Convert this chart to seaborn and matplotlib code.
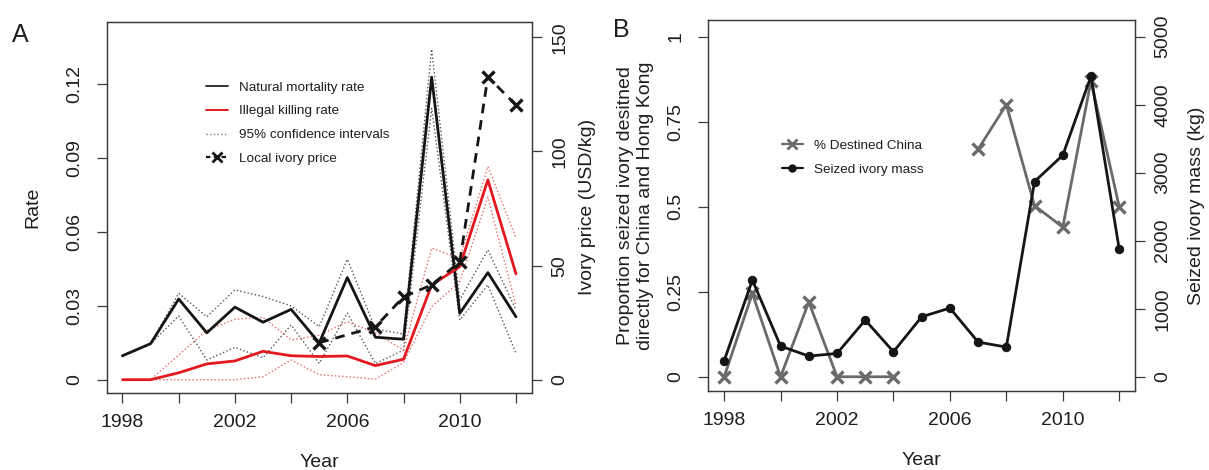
import numpy as np
import pandas as pd
import matplotlib
matplotlib.use("Agg")
import matplotlib.pyplot as plt
from matplotlib.lines import Line2D
import seaborn as sns

# Values
YEARS = list(range(1998, 2013))

# Panel A: rates (left axis)
NATURAL = [0.0097, 0.0146, 0.0327, 0.0190, 0.0294, 0.0233, 0.0285, 0.0149,
           0.0414, 0.0172, 0.0164, 0.1226, 0.0269, 0.0434, 0.0255]
NATURAL_HI = [0.0097, 0.0146, 0.0350, 0.0255, 0.0364, 0.0337, 0.0299, 0.0215,
              0.0488, 0.0205, 0.0185, 0.1340, 0.0323, 0.0526, 0.0283]
NATURAL_LO = [0.0097, 0.0146, 0.0258, 0.0080, 0.0131, 0.0089, 0.0222, 0.0066,
              0.0270, 0.0065, 0.0120, 0.1100, 0.0242, 0.0384, 0.0107]
ILLEGAL = [0.0, 0.0, 0.0028, 0.0064, 0.0076, 0.0115, 0.0097, 0.0094,
           0.0096, 0.0057, 0.0083, 0.0384, 0.0458, 0.0810, 0.0429]
ILLEGAL_HI = [0.0, 0.0, 0.0100, 0.0200, 0.0245, 0.0253, 0.0161, 0.0180,
              0.0235, 0.0190, 0.0120, 0.0533, 0.0492, 0.0864, 0.0575]
ILLEGAL_LO = [0.0, 0.0, 0.0, 0.0, 0.0, 0.0012, 0.0080, 0.0020,
              0.0012, 0.0002, 0.0070, 0.0296, 0.0397, 0.0740, 0.0300]

# Panel A: local ivory price (right axis)
PRICE_YEARS = [2005, 2007, 2008, 2009, 2010, 2011, 2012]
PRICE = [16.3, 23.3, 36.4, 41.6, 51.7, 132.7, 120.3]

# Panel B
CHINA_PROP = [0.0, 0.245, 0.0, 0.22, 0.0, 0.0, 0.0, np.nan, np.nan,
              0.669, 0.80, 0.503, 0.44, 0.87, 0.50]
SEIZED_KG = [235, 1422, 451, 304, 343, 833, 368, 882, 1010, 510, 436,
             2870, 3257, 4419, 1878]

XTICKS = list(range(1998, 2013, 2))
XTICKLABELS = ["1998", "", "2002", "", "2006", "", "2010", ""]

RED = "#e3191f"
DARK = "#151515"
GREY = "#6a6a6a"
AXCOL = "#3a3a3a"
TXT = "#1e1e1e"

sns.set_style("ticks")
plt.rcParams["font.family"] = ["Liberation Sans", "DejaVu Sans"]
plt.rcParams["text.color"] = TXT
plt.rcParams["axes.labelcolor"] = TXT


def style_axis(ax):
    for sp in ax.spines.values():
        sp.set_visible(True)
        sp.set_color(AXCOL)
        sp.set_linewidth(0.9)
    ax.tick_params(direction="out", length=7, width=0.9, color=AXCOL,
                   labelsize=14, labelcolor=TXT)


def rotate_yticks(ax):
    for lbl in ax.get_yticklabels():
        lbl.set_rotation(90)
        lbl.set_va("center")


def draw(ax, x, y, **kw):
    df = pd.DataFrame({"x": x, "y": y}).dropna()
    sns.lineplot(data=df, x="x", y="y", ax=ax, estimator=None, sort=False,
                 legend=False, **kw)


fig = plt.figure(figsize=(12.09, 4.70), dpi=100)

# ---------------- Panel A ----------------
axA = fig.add_axes([0.0883, 0.1638, 0.3515, 0.7900])
axA2 = axA.twinx()

draw(axA, YEARS, NATURAL_HI, color="#555555", lw=1.0, ls=":")
draw(axA, YEARS, NATURAL_LO, color="#555555", lw=1.0, ls=":")
draw(axA, YEARS, ILLEGAL_HI, color="#e46a6a", lw=1.0, ls=":")
draw(axA, YEARS, ILLEGAL_LO, color="#e46a6a", lw=1.0, ls=":")
draw(axA, YEARS, NATURAL, color=DARK, lw=2.0)
draw(axA, YEARS, ILLEGAL, color=RED, lw=2.0)
draw(axA2, PRICE_YEARS, PRICE, color=DARK, lw=2.0, ls=(0, (3.5, 2.5)),
     marker="x", markersize=9, markeredgewidth=2.4, markeredgecolor=DARK)

axA.set_xlim(1997.44, 2012.56)
axA.set_ylim(-0.0054, 0.1451)
axA2.set_ylim(-5.7, 156.8)
axA.set_xticks(XTICKS)
axA.set_xticklabels(XTICKLABELS)
axA.set_yticks([0, 0.03, 0.06, 0.09, 0.12])
axA.set_yticklabels(["0", "0.03", "0.06", "0.09", "0.12"])
axA2.set_yticks([0, 50, 100, 150])
axA2.set_yticklabels(["0", "50", "100", "150"])
for a in (axA, axA2):
    style_axis(a)
axA.tick_params(axis="y", pad=10)
axA.tick_params(axis="x", pad=8)
axA2.tick_params(axis="y", pad=7)
rotate_yticks(axA)
rotate_yticks(axA2)
axA.set_xlabel("Year", fontsize=14, labelpad=17)
axA.set_ylabel("Rate", fontsize=14, labelpad=18)
axA2.set_ylabel("Ivory price (USD/kg)", fontsize=14, labelpad=8)

handlesA = [
    Line2D([], [], color="#333333", lw=1.4),
    Line2D([], [], color=RED, lw=1.4),
    Line2D([], [], color="#777777", lw=1.0, ls=":"),
    Line2D([], [], color=DARK, lw=1.6, ls=(0, (2, 1.5)), marker="x",
           markersize=7, markeredgewidth=2),
]
labelsA = ["Natural mortality rate", "Illegal killing rate",
           "95% confidence intervals", "Local ivory price"]
axA2.legend(handlesA, labelsA, loc="upper left", bbox_to_anchor=(0.225, 0.851),
            frameon=False, fontsize=9.7, handlelength=1.6, handletextpad=0.8,
            labelspacing=0.85, borderaxespad=0, borderpad=0.3)

# ---------------- Panel B ----------------
axB = fig.add_axes([0.5859, 0.1687, 0.3529, 0.7887])
axB2 = axB.twinx()

prop = np.array(CHINA_PROP, dtype=float)
yrs = np.array(YEARS)
seg_id = np.cumsum(np.isnan(prop))
for s in np.unique(seg_id[~np.isnan(prop)]):
    m = (seg_id == s) & ~np.isnan(prop)
    draw(axB, yrs[m], prop[m], color=GREY, lw=2.0, marker="x",
         markersize=8, markeredgewidth=2.4, markeredgecolor=GREY)
draw(axB2, YEARS, SEIZED_KG, color=DARK, lw=2.0, marker="o",
     markersize=6, markeredgecolor=DARK, markerfacecolor=DARK)

axB.set_xlim(1997.44, 2012.56)
axB.set_ylim(-0.041, 1.049)
axB2.set_ylim(-205, 5245)
axB.set_xticks(XTICKS)
axB.set_xticklabels(XTICKLABELS)
axB.set_yticks([0, 0.25, 0.5, 0.75, 1])
axB.set_yticklabels(["0", "0.25", "0.5", "0.75", "1"])
axB2.set_yticks([0, 1000, 2000, 3000, 4000, 5000])
axB2.set_yticklabels(["0", "1000", "2000", "3000", "4000", "5000"])
for a in (axB, axB2):
    style_axis(a)
axB.tick_params(axis="y", pad=10)
axB.tick_params(axis="x", pad=8)
axB2.tick_params(axis="y", pad=7)
rotate_yticks(axB)
rotate_yticks(axB2)
axB.set_xlabel("Year", fontsize=14, labelpad=17)
axB.set_ylabel("Proportion seized ivory desitned\ndirectly for China and Hong Kong",
               fontsize=14, labelpad=10, linespacing=1.25)
axB2.set_ylabel("Seized ivory mass (kg)", fontsize=14, labelpad=12)

handlesB = [
    Line2D([], [], color=GREY, lw=1.6, marker="x", markersize=7,
           markeredgewidth=2),
    Line2D([], [], color=DARK, lw=1.6, marker="o", markersize=5),
]
axB2.legend(handlesB, ["% Destined China", "Seized ivory mass"],
            loc="upper left", bbox_to_anchor=(0.162, 0.689), frameon=False,
            fontsize=9.7, handlelength=1.6, handletextpad=0.8,
            labelspacing=0.85, borderaxespad=0, borderpad=0.3)

fig.text(12 / 1209, 1 - 42 / 470, "A", fontsize=18, va="baseline", ha="left")
fig.text(613 / 1209, 1 - 37 / 470, "B", fontsize=18, va="baseline", ha="left")

fig.savefig("out.png", dpi=100, facecolor="white")
